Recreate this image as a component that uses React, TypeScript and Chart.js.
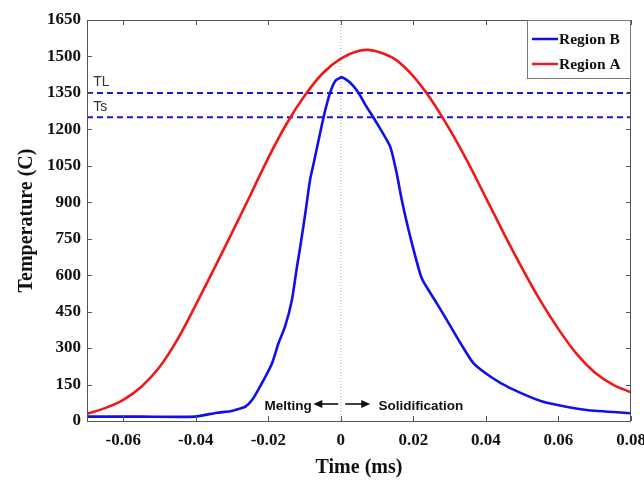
import React, { useEffect, useRef } from 'react';
import { Chart, registerables } from 'chart.js';

Chart.register(...registerables);

// Region A (red) – time (ms) and temperature (C)
const timeA = [-0.07, -0.065, -0.06, -0.055, -0.05, -0.045, -0.04, -0.035, -0.03, -0.025, -0.02, -0.015, -0.01, -0.005, 0, 0.005, 0.0075, 0.01, 0.015, 0.02, 0.025, 0.03, 0.035, 0.04, 0.045, 0.05, 0.055, 0.06, 0.065, 0.07, 0.075, 0.08];
const tempA = [30, 53, 87, 141, 222, 337, 478, 625, 775, 928, 1083, 1222, 1338, 1431, 1491, 1523, 1527, 1520, 1488, 1418, 1320, 1200, 1065, 918, 770, 628, 495, 378, 276, 200, 150, 118];

// Region B (blue)
const timeB = [-0.07, -0.055, -0.0402, -0.0342, -0.0305, -0.028, -0.0264, -0.0245, -0.0218, -0.019, -0.0172, -0.0154, -0.0135, -0.0121, -0.0112, -0.0098, -0.0085, -0.0073, -0.0048, -0.003, -0.0015, 0.0003, 0.0026, 0.0049, 0.0068, 0.009, 0.0108, 0.0136, 0.0154, 0.0168, 0.0191, 0.0223, 0.0258, 0.0292, 0.033, 0.0366, 0.0415, 0.0467, 0.0558, 0.0678, 0.08];
const tempB = [18, 18, 18, 34, 40, 50, 58, 86, 155, 237, 320, 388, 498, 635, 717, 855, 992, 1074, 1248, 1349, 1400, 1414, 1392, 1350, 1300, 1248, 1204, 1129, 1019, 909, 760, 587, 500, 416, 320, 237, 180, 135, 79, 45, 32];

// Reference temperatures
const liquidusT = 1350;
const solidusT = 1250;
const refLabels = ['TL', 'Ts'];

// Axes
const xMin = -0.07;
const xMax = 0.08;
const xTickValues = [-0.06, -0.04, -0.02, 0, 0.02, 0.04, 0.06, 0.08];
const yMin = 0;
const yMax = 1650;
const yStep = 150;

// Annotations (data coordinates)
const meltText = 'Melting';
const solidText = 'Solidification';
const annotTime = { meltTextEnd: -0.008, meltArrowHead: -0.0076, meltArrowTail: -0.0007, solArrowTail: 0.0012, solArrowHead: 0.0081, solTextStart: 0.0104 };
const annotTemp = 70;
const refLabelTime = -0.0683;

const BLUE = '#1010e8';
const RED = '#f01818';

const pts = (xs: number[], ys: number[]) => xs.map((x, i) => ({ x, y: ys[i] }));

const decorPlugin = {
  id: 'decor',
  afterDraw(chart: any) {
    const { ctx, chartArea: a, scales } = chart;
    const xs = scales.x;
    const ys = scales.y;
    ctx.save();
    // frame
    ctx.strokeStyle = '#555';
    ctx.lineWidth = 1;
    ctx.strokeRect(a.left + 0.5, a.top + 0.5, a.right - a.left - 1, a.bottom - a.top);
    // inward ticks
    const tl = 5;
    ctx.beginPath();
    xs.ticks.forEach((t: any) => {
      const px = Math.round(xs.getPixelForValue(t.value)) + 0.5;
      ctx.moveTo(px, a.bottom);
      ctx.lineTo(px, a.bottom - tl);
      ctx.moveTo(px, a.top);
      ctx.lineTo(px, a.top + tl);
    });
    ys.ticks.forEach((t: any) => {
      const py = Math.round(ys.getPixelForValue(t.value)) + 0.5;
      ctx.moveTo(a.left, py);
      ctx.lineTo(a.left + tl, py);
      ctx.moveTo(a.right, py);
      ctx.lineTo(a.right - tl, py);
    });
    ctx.stroke();

    // TL / Ts labels
    ctx.fillStyle = '#333';
    ctx.font = '14px "Liberation Sans", Arial, sans-serif';
    ctx.textAlign = 'left';
    ctx.textBaseline = 'bottom';
    const lx = xs.getPixelForValue(refLabelTime);
    ctx.fillText(refLabels[0], lx, ys.getPixelForValue(liquidusT) - 4);
    ctx.fillText(refLabels[1], lx, ys.getPixelForValue(solidusT) - 3);

    // Melting / Solidification
    const ay = ys.getPixelForValue(annotTemp);
    ctx.fillStyle = '#111';
    ctx.font = 'bold 13.5px "Liberation Sans", Arial, sans-serif';
    ctx.textBaseline = 'middle';
    ctx.textAlign = 'right';
    ctx.fillText(meltText, xs.getPixelForValue(annotTime.meltTextEnd), ay + 2);
    ctx.textAlign = 'left';
    ctx.fillText(solidText, xs.getPixelForValue(annotTime.solTextStart), ay + 2);
    const arrow = (from: number, to: number) => {
      const x0 = xs.getPixelForValue(from);
      const x1 = xs.getPixelForValue(to);
      const dir = Math.sign(x1 - x0);
      ctx.strokeStyle = '#111';
      ctx.lineWidth = 1.6;
      ctx.beginPath();
      ctx.moveTo(x0, ay);
      ctx.lineTo(x1 - dir * 6, ay);
      ctx.stroke();
      ctx.fillStyle = '#111';
      ctx.beginPath();
      ctx.moveTo(x1, ay);
      ctx.lineTo(x1 - dir * 9, ay - 4);
      ctx.lineTo(x1 - dir * 9, ay + 4);
      ctx.closePath();
      ctx.fill();
    };
    arrow(annotTime.meltArrowTail, annotTime.meltArrowHead);
    arrow(annotTime.solArrowTail, annotTime.solArrowHead);

    // legend box
    const items = chart.data.datasets.filter((d: any) => d.label && d.label.startsWith('Region'));
    const bw = 104;
    const bh = 59;
    const bx = a.right - bw;
    const by = a.top;
    ctx.fillStyle = '#fff';
    ctx.fillRect(bx, by, bw, bh);
    ctx.strokeStyle = '#777';
    ctx.lineWidth = 1;
    ctx.strokeRect(bx + 0.5, by + 0.5, bw - 1, bh - 1);
    ctx.font = 'bold 15.5px "Liberation Serif", "Times New Roman", serif';
    ctx.textAlign = 'left';
    ctx.textBaseline = 'middle';
    items.forEach((d: any, i: number) => {
      const yy = by + 19 + i * 25;
      ctx.strokeStyle = d.borderColor;
      ctx.lineWidth = 2.5;
      ctx.beginPath();
      ctx.moveTo(bx + 5, yy);
      ctx.lineTo(bx + 31, yy);
      ctx.stroke();
      ctx.fillStyle = '#111';
      ctx.fillText(d.label, bx + 32, yy + 1);
    });
    ctx.restore();
  },
};

export default function App() {
  const ref = useRef<HTMLCanvasElement>(null);
  useEffect(() => {
    if (!ref.current) return;
    const chart = new Chart(ref.current, {
      type: 'line',
      data: {
        datasets: [
          {
            label: 'Region B',
            data: pts(timeB, tempB),
            borderColor: BLUE,
            borderWidth: 2.6,
            pointRadius: 0,
            tension: 0.2,
            order: 1,
          },
          {
            label: 'Region A',
            data: pts(timeA, tempA),
            borderColor: RED,
            borderWidth: 2.6,
            pointRadius: 0,
            cubicInterpolationMode: 'monotone',
            order: 0,
          },
          {
            label: 'TL',
            data: pts([xMin, xMax], [liquidusT, liquidusT]),
            borderColor: '#1a1ad0',
            borderWidth: 2,
            borderDash: [6, 4],
            pointRadius: 0,
            order: 2,
          },
          {
            label: 'Ts',
            data: pts([xMin, xMax], [solidusT, solidusT]),
            borderColor: '#1a1ad0',
            borderWidth: 2,
            borderDash: [6, 4],
            pointRadius: 0,
            order: 3,
          },
          {
            label: 'zero',
            data: pts([0, 0], [yMin, yMax]),
            borderColor: '#aaa',
            borderWidth: 1,
            borderDash: [1, 2],
            pointRadius: 0,
            order: 4,
          },
        ],
      },
      options: {
        animation: false,
        responsive: false,
        devicePixelRatio: 1,
        layout: { padding: { top: 20, right: 13, left: 0, bottom: 0 } },
        plugins: { legend: { display: false }, tooltip: { enabled: false } },
        scales: {
          x: {
            type: 'linear',
            min: xMin,
            max: xMax,
            afterBuildTicks: (s: any) => {
              s.ticks = xTickValues.map((v) => ({ value: v }));
            },
            afterFit: (s: any) => {
              s.height = 61;
              s.paddingLeft = 0;
              s.paddingRight = 0;
            },
            grid: { display: false, drawTicks: false },
            border: { display: false },
            ticks: {
              padding: 9,
              color: '#111',
              font: { family: '"Liberation Serif", "Times New Roman", serif', size: 17, weight: 'bold' },
              callback: (v: any) => (Math.abs(v) < 1e-9 ? '0' : Number(v).toFixed(2)),
              maxRotation: 0,
              autoSkip: false,
            },
            title: {
              display: true,
              text: 'Time (ms)',
              color: '#111',
              font: { family: '"Liberation Serif", "Times New Roman", serif', size: 20, weight: 'bold' },
              padding: { top: 0, bottom: 2 },
            },
          },
          y: {
            type: 'linear',
            min: yMin,
            max: yMax,
            afterFit: (s: any) => {
              s.width = 87;
              s.paddingTop = 0;
              s.paddingBottom = 0;
            },
            grid: { display: false, drawTicks: false },
            border: { display: false },
            ticks: {
              stepSize: yStep,
              padding: 6,
              color: '#111',
              font: { family: '"Liberation Serif", "Times New Roman", serif', size: 17, weight: 'bold' },
              callback: (v: any) => String(Math.round(Number(v))),
              autoSkip: false,
            },
            title: {
              display: true,
              text: 'Temperature (C)',
              color: '#111',
              font: { family: '"Liberation Serif", "Times New Roman", serif', size: 20, weight: 'bold' },
              padding: { top: 15, bottom: 0 },
            },
          },
        },
      },
      plugins: [decorPlugin],
    } as any);
    return () => chart.destroy();
  }, []);
  return (
    <div style={{ position: 'absolute', left: 0, top: 0, width: 644, height: 482, background: '#fff' }}>
      <canvas ref={ref} width={644} height={482} />
    </div>
  );
}
